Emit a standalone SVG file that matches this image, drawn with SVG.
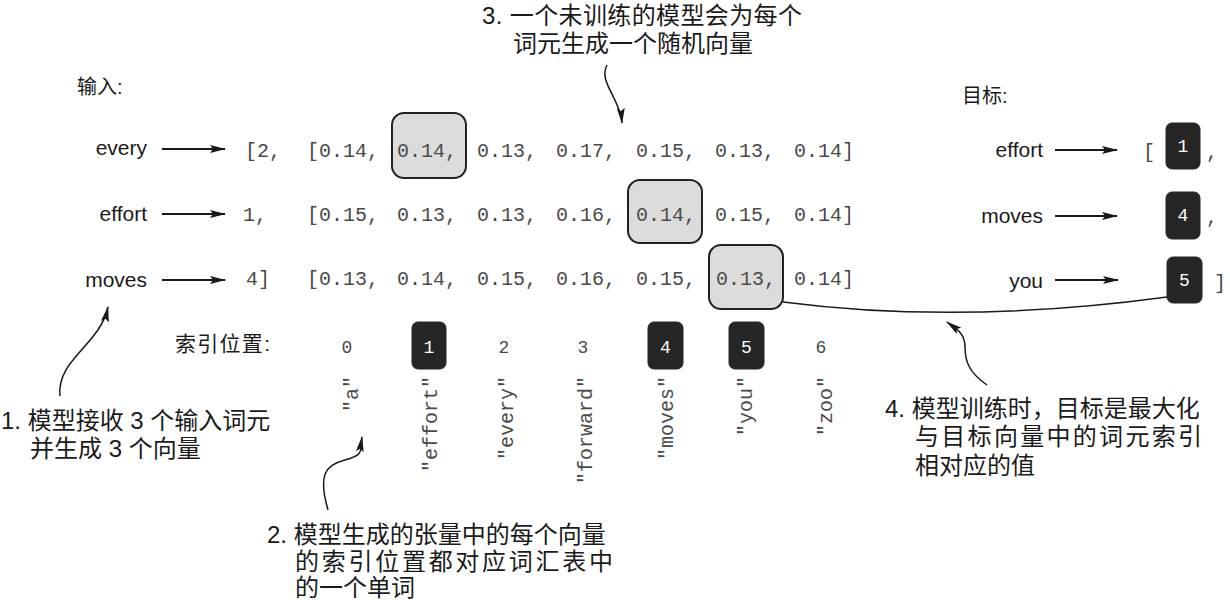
<svg xmlns="http://www.w3.org/2000/svg" width="1230" height="600" viewBox="0 0 1230 600">
<defs>
<style>
.sans{font-family:"Liberation Sans","Noto Sans CJK SC",sans-serif;fill:#1a1a1a}
.cjk{font-family:"Liberation Sans","Noto Sans CJK SC",sans-serif;fill:#1a1a1a;font-size:24px}
.lbl{font-family:"Liberation Sans",sans-serif;font-size:21px;fill:#1a1a1a}
.mono{font-family:"Liberation Mono","Courier New",monospace;font-size:20px;fill:#4a4a4a}
.idx{font-family:"Liberation Mono","Courier New",monospace;font-size:18px;fill:#4a4a4a;text-anchor:middle}
.wht{font-family:"Liberation Mono","Courier New",monospace;font-size:18px;fill:#ffffff;text-anchor:middle}
.gbox{fill:#dcdcdc;stroke:#222;stroke-width:2}
.dbox{fill:#262626;stroke:#262626;stroke-width:1}
.arr{stroke:#1a1a1a;stroke-width:2;fill:none;marker-end:url(#ah)}
.crv{stroke:#1a1a1a;stroke-width:1.5;fill:none;marker-end:url(#ah)}
.voc{font-family:"Liberation Mono","Courier New",monospace;font-size:20px;fill:#4a4a4a;text-anchor:end}
</style>
<marker id="ah" viewBox="0 0 16 8" refX="15" refY="4" markerWidth="16" markerHeight="8" markerUnits="userSpaceOnUse" orient="auto">
<path d="M0,0 L16,4 L0,8 L3,4 z" fill="#1a1a1a"/>
</marker>
</defs>
<rect width="1230" height="600" fill="#ffffff"/>

<g id="callout3">
<text class="cjk" x="482" y="24" textLength="320" lengthAdjust="spacing">3. 一个未训练的模型会为每个</text>
<text class="cjk" x="513" y="52">词元生成一个随机向量</text>
</g>

<g id="input-label"><text class="sans" x="77" y="94" font-size="20">输入:</text></g>
<g id="target-label"><text class="sans" x="962" y="103" font-size="20">目标:</text></g>

<g id="inputs">
<text class="lbl" x="147" y="155" text-anchor="end">every</text>
<text class="lbl" x="147" y="221" text-anchor="end">effort</text>
<text class="lbl" x="147" y="287" text-anchor="end">moves</text>
</g>

<g id="input-ids">
<text class="mono" x="245" y="157">[2,</text>
<text class="mono" x="243" y="221">1,</text>
<text class="mono" x="246" y="285">4]</text>
</g>

<g id="highlight-boxes">
<rect class="gbox" x="392" y="113" width="74" height="65" rx="12"/>
<rect class="gbox" x="628" y="180" width="74" height="63" rx="12"/>
<rect class="gbox" x="709" y="245" width="74" height="64" rx="12"/>
</g>

<g id="vector-row1">
<text class="mono" x="307" y="157">[0.14,</text>
<text class="mono" x="397" y="157">0.14,</text>
<text class="mono" x="477" y="157">0.13,</text>
<text class="mono" x="556" y="157">0.17,</text>
<text class="mono" x="636" y="157">0.15,</text>
<text class="mono" x="715" y="157">0.13,</text>
<text class="mono" x="794" y="157">0.14]</text>
</g>
<g id="vector-row2">
<text class="mono" x="307" y="221">[0.15,</text>
<text class="mono" x="397" y="221">0.13,</text>
<text class="mono" x="477" y="221">0.13,</text>
<text class="mono" x="556" y="221">0.16,</text>
<text class="mono" x="636" y="221">0.14,</text>
<text class="mono" x="715" y="221">0.15,</text>
<text class="mono" x="794" y="221">0.14]</text>
</g>
<g id="vector-row3">
<text class="mono" x="307" y="285">[0.13,</text>
<text class="mono" x="397" y="285">0.14,</text>
<text class="mono" x="477" y="285">0.15,</text>
<text class="mono" x="556" y="285">0.16,</text>
<text class="mono" x="636" y="285">0.15,</text>
<text class="mono" x="716" y="285">0.13,</text>
<text class="mono" x="794" y="285">0.14]</text>
</g>

<g id="targets">
<text class="lbl" x="1043" y="157" text-anchor="end">effort</text>
<text class="lbl" x="1043" y="223" text-anchor="end">moves</text>
<text class="lbl" x="1043" y="288" text-anchor="end">you</text>
<text class="mono" x="1143" y="158">[</text>
<rect class="dbox" x="1166" y="123" width="34" height="46" rx="6"/>
<text class="wht" x="1183" y="152">1</text>
<text class="mono" x="1206" y="158">,</text>
<rect class="dbox" x="1166" y="192" width="34" height="47" rx="6"/>
<text class="wht" x="1183" y="221">4</text>
<text class="mono" x="1206" y="223">,</text>
<rect class="dbox" x="1167" y="257" width="35" height="46" rx="6"/>
<text class="wht" x="1184.5" y="286">5</text>
<text class="mono" x="1214" y="289">]</text>
</g>

<g id="index-row">
<text class="sans" x="175" y="351" font-size="21" textLength="95" lengthAdjust="spacing">索引位置:</text>
<text class="idx" x="347" y="353">0</text>
<rect class="dbox" x="412" y="322" width="34" height="47" rx="6"/>
<text class="wht" x="429" y="353">1</text>
<text class="idx" x="504" y="353">2</text>
<text class="idx" x="583" y="353">3</text>
<rect class="dbox" x="648" y="322" width="35" height="47" rx="6"/>
<text class="wht" x="665.5" y="353">4</text>
<rect class="dbox" x="729" y="322" width="35" height="47" rx="6"/>
<text class="wht" x="746.5" y="353">5</text>
<text class="idx" x="821" y="353">6</text>
</g>

<g id="vocab">
<text class="voc" x="358" y="376" transform="rotate(-90 358 376)">"a"</text>
<text class="voc" x="437" y="376" transform="rotate(-90 437 376)">"effort"</text>
<text class="voc" x="513" y="376" transform="rotate(-90 513 376)">"every"</text>
<text class="voc" x="592" y="376" transform="rotate(-90 592 376)">"forward"</text>
<text class="voc" x="673" y="376" transform="rotate(-90 673 376)">"moves"</text>
<text class="voc" x="752" y="376" transform="rotate(-90 752 376)">"you"</text>
<text class="voc" x="832" y="376" transform="rotate(-90 832 376)">"zoo"</text>
</g>

<g id="callout1">
<text class="cjk" x="1" y="429">1. 模型接收 3 个输入词元</text>
<text class="cjk" x="30" y="457">并生成 3 个向量</text>
</g>

<g id="callout2">
<text class="cjk" x="267" y="543">2. 模型生成的张量中的每个向量</text>
<text class="cjk" x="295" y="570" textLength="318" lengthAdjust="spacing">的索引位置都对应词汇表中</text>
<text class="cjk" x="295" y="596">的一个单词</text>
</g>

<g id="callout4">
<text class="cjk" x="885" y="417">4. 模型训练时，目标是最大化</text>
<text class="cjk" x="915" y="445" textLength="287" lengthAdjust="spacing">与目标向量中的词元索引</text>
<text class="cjk" x="915" y="474">相对应的值</text>
</g>

<g id="connectors">
<line class="arr" x1="162" y1="149" x2="225" y2="149"/>
<line class="arr" x1="162" y1="214" x2="225" y2="214"/>
<line class="arr" x1="162" y1="280" x2="225" y2="280"/>
<line class="arr" x1="1055" y1="150" x2="1117" y2="150"/>
<line class="arr" x1="1055" y1="216" x2="1117" y2="216"/>
<line class="arr" x1="1055" y1="280" x2="1118" y2="280"/>
<path class="crv" d="M607,65 C598,82 620,98 622,123"/>
<path class="crv" d="M60,396 C56,360 100,345 108,307"/>
<path class="crv" d="M328,510 C318,475 325,465 345,460 S360,450 362,437"/>
<path class="crv" d="M987,385 C968,372 965,360 965,347 S958,330 947,322"/>
<path d="M783,302 Q960,325 1167,297" stroke="#1a1a1a" stroke-width="1.5" fill="none"/>
</g>
</svg>
